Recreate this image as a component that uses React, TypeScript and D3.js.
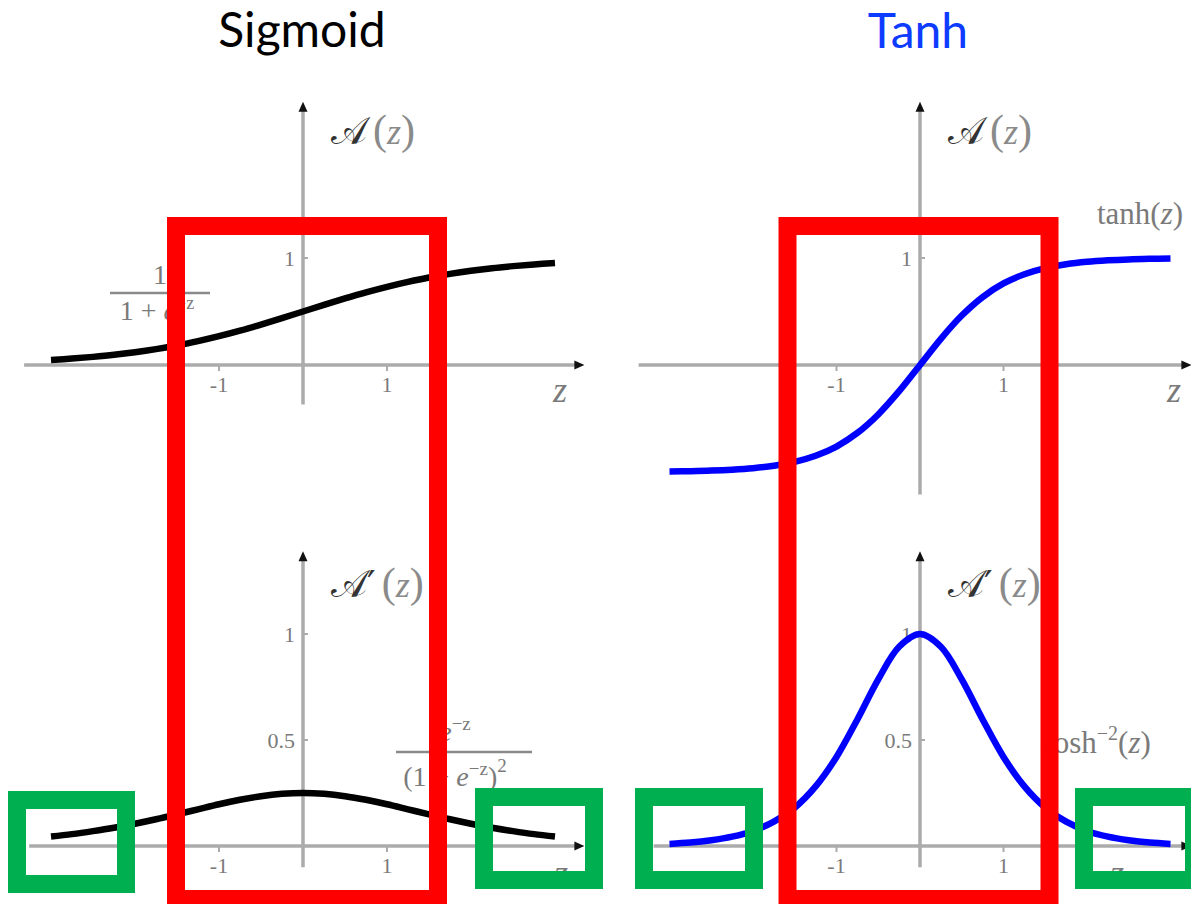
import React from 'react';
import * as d3 from 'd3';

// ---------- data ----------
const zValues = [-3, -2.75, -2.5, -2.25, -2, -1.75, -1.5, -1.25, -1, -0.75, -0.5, -0.25, 0,
  0.25, 0.5, 0.75, 1, 1.25, 1.5, 1.75, 2, 2.25, 2.5, 2.75, 3];
const sigmoidValues = [0.047, 0.060, 0.076, 0.095, 0.119, 0.148, 0.182, 0.223, 0.269, 0.321, 0.378, 0.438, 0.5,
  0.562, 0.622, 0.679, 0.731, 0.777, 0.818, 0.852, 0.881, 0.905, 0.924, 0.940, 0.953];
const sigmoidPrimeValues = [0.045, 0.056, 0.070, 0.086, 0.105, 0.126, 0.149, 0.173, 0.197, 0.218, 0.235, 0.246, 0.25,
  0.246, 0.235, 0.218, 0.197, 0.173, 0.149, 0.126, 0.105, 0.086, 0.070, 0.056, 0.045];
const tanhValues = [-0.995, -0.992, -0.987, -0.978, -0.964, -0.941, -0.905, -0.848, -0.762, -0.635, -0.462, -0.245, 0,
  0.245, 0.462, 0.635, 0.762, 0.848, 0.905, 0.941, 0.964, 0.978, 0.987, 0.992, 0.995];
const tanhPrimeValues = [0.010, 0.016, 0.027, 0.044, 0.071, 0.115, 0.181, 0.281, 0.420, 0.597, 0.786, 0.940, 1.0,
  0.940, 0.786, 0.597, 0.420, 0.281, 0.181, 0.115, 0.071, 0.044, 0.027, 0.016, 0.010];

const xTicks = [-1, 1];
const xTickLabels = ['-1', '1'];
const topYTicks = [1];
const topYTickLabels = ['1'];
const bottomYTicks = [0.5, 1];
const bottomYTickLabels = ['0.5', '1'];
const titles = ['Sigmoid', 'Tanh'];

// ---------- layout ----------
const W = 1191;
const H = 904;
const AXIS = '#ababab';
const LABEL = '#7a7a7a';
const SERIF = '"DejaVu Serif", "Liberation Serif", serif';
const TSERIF = '"Liberation Serif", "DejaVu Serif", serif';

type Panel = {
  ox: number; oy: number; ux: number; uy: number;
  xExt: [number, number]; yExt: [number, number];
  values: number[]; color: string;
  yTicks: number[]; yTickLabels: string[];
  top: boolean; zLabelX: number; zLabelY: number;
};

const panels: Panel[] = [
  { ox: 303, oy: 365, ux: 84, uy: 107, xExt: [-3.32, 3.35], yExt: [-0.37, 2.46], values: sigmoidValues, color: '#000000', yTicks: topYTicks, yTickLabels: topYTickLabels, top: true, zLabelX: 560, zLabelY: 402 },
  { ox: 920, oy: 365, ux: 83.5, uy: 107, xExt: [-3.37, 3.25], yExt: [-1.21, 2.46], values: tanhValues, color: '#0000ff', yTicks: topYTicks, yTickLabels: topYTickLabels, top: true, zLabelX: 1174, zLabelY: 402 },
  { ox: 303, oy: 846, ux: 84, uy: 212, xExt: [-3.26, 3.35], yExt: [-0.1, 1.39], values: sigmoidPrimeValues, color: '#000000', yTicks: bottomYTicks, yTickLabels: bottomYTickLabels, top: false, zLabelX: 561, zLabelY: 885 },
  { ox: 920, oy: 846, ux: 83.5, uy: 212, xExt: [-3.19, 3.25], yExt: [-0.1, 1.39], values: tanhPrimeValues, color: '#0000ff', yTicks: bottomYTicks, yTickLabels: bottomYTickLabels, top: false, zLabelX: 1117, zLabelY: 885 },
];

function PanelView({ p }: { p: Panel }) {
  const x = d3.scaleLinear().domain([0, 1]).range([p.ox, p.ox + p.ux]);
  const y = d3.scaleLinear().domain([0, 1]).range([p.oy, p.oy - p.uy]);
  const line = d3.line<number>()
    .x((_, i) => x(zValues[i]))
    .y((v) => y(v))
    .curve(d3.curveCatmullRom);
  const x0 = x(p.xExt[0]);
  const x1 = x(p.xExt[1]);
  const y0 = y(p.yExt[0]);
  const y1 = y(p.yExt[1]);
  return (
    <g>
      {/* axes */}
      <line x1={x0} y1={p.oy} x2={x1 - 6} y2={p.oy} stroke={AXIS} strokeWidth={3.5} />
      <line x1={p.ox} y1={y0} x2={p.ox} y2={y1 + 6} stroke={AXIS} strokeWidth={3.5} />
      <path d={`M${x1},${p.oy} L${x1 - 10},${p.oy - 4.5} L${x1 - 10},${p.oy + 4.5} Z`} fill="#111" />
      <path d={`M${p.ox},${y1} L${p.ox - 4.5},${y1 + 10} L${p.ox + 4.5},${y1 + 10} Z`} fill="#111" />
      {/* x ticks */}
      {xTicks.map((t, i) => (
        <g key={'xt' + i}>
          <line x1={x(t)} x2={x(t)} y1={p.oy} y2={p.oy + 6} stroke={AXIS} strokeWidth={2} />
          <text x={x(t)} y={p.oy + 27} textAnchor="middle" fontFamily={TSERIF} fontSize={22} fill={LABEL}>{xTickLabels[i]}</text>
        </g>
      ))}
      {/* y ticks */}
      {p.yTicks.map((t, i) => (
        <g key={'yt' + i}>
          <line x1={p.ox} x2={p.ox + 5} y1={y(t)} y2={y(t)} stroke={AXIS} strokeWidth={2} />
          <text x={p.ox - 8} y={y(t) + 8} textAnchor="end" fontFamily={TSERIF} fontSize={22} fill={LABEL}>{p.yTickLabels[i]}</text>
        </g>
      ))}
      {/* axis name */}
      <text x={p.ox + 28} y={p.top ? 144 : 597} fontFamily={SERIF} fontSize={38} fill="#333">
        <tspan>{p.top ? '𝒜' : '𝒜′'}</tspan>
        <tspan dx={6} fill="#8a8a8a" fontFamily={TSERIF} fontSize={42}>(</tspan>
        <tspan fontStyle="italic" fill="#8a8a8a" fontFamily={TSERIF} fontSize={36}>z</tspan>
        <tspan fill="#8a8a8a" fontFamily={TSERIF} fontSize={42}>)</tspan>
      </text>
      <text x={p.zLabelX} y={p.zLabelY} textAnchor="middle" fontFamily={TSERIF} fontStyle="italic" fontSize={36} fill={LABEL}>z</text>
      {/* curve */}
      <path d={line(p.values) || ''} fill="none" stroke={p.color} strokeWidth={6.5} strokeLinecap="butt" />
    </g>
  );
}

export default function App() {
  return (
    <svg width={W} height={H} style={{ position: 'absolute', left: 0, top: 0, background: '#fff' }}>
      <rect x={0} y={0} width={W} height={H} fill="#fff" />
      <text x={302} y={47} textAnchor="middle" fontFamily="Lato, 'Open Sans', sans-serif" fontSize={48} fill="#000">{titles[0]}</text>
      <text x={918} y={48} textAnchor="middle" fontFamily="Lato, 'Open Sans', sans-serif" fontSize={48} fill="#0d3bff">{titles[1]}</text>

      {panels.map((p, i) => <PanelView key={i} p={p} />)}

      {/* formulas */}
      <g fontFamily={TSERIF} fill={LABEL} fontSize={28}>
        <text x={160} y={284} textAnchor="middle">1</text>
        <line x1={110} x2={210} y1={293} y2={293} stroke="#8a8a8a" strokeWidth={2.5} />
        <text x={157} y={320} textAnchor="middle">1 + <tspan fontStyle="italic">e</tspan><tspan dy={-11} fontSize={18}>−z</tspan></text>

        <text x={455} y={741} textAnchor="middle"><tspan fontStyle="italic">e</tspan><tspan dy={-11} fontSize={19}>−z</tspan></text>
        <line x1={396} x2={532} y1={752} y2={752} stroke="#8a8a8a" strokeWidth={2.5} />
        <text x={455} y={786} textAnchor="middle">(1 + <tspan fontStyle="italic">e</tspan><tspan dy={-11} fontSize={19}>−z</tspan><tspan dy={11}>)</tspan><tspan dy={-14} fontSize={19}>2</tspan></text>

        <text x={1040} y={753} fontSize={31}>cosh<tspan dy={-13} fontSize={20}>−2</tspan><tspan dy={13}>(</tspan><tspan fontStyle="italic">z</tspan>)</text>
        <text x={1097} y={224} fontSize={31}>tanh(<tspan fontStyle="italic">z</tspan>)</text>
      </g>

      {/* highlight boxes */}
      <g fill="none" strokeWidth={18}>
        <rect x={176} y={226} width={262} height={673} stroke="#ff0000" />
        <rect x={787.5} y={226} width={262} height={673} stroke="#ff0000" />
        <rect x={17} y={800} width={109} height={84} stroke="#00b050" />
        <rect x={484} y={797} width={110} height={83} stroke="#00b050" />
        <rect x={644} y={797} width={110} height={83} stroke="#00b050" />
        <rect x={1084} y={797} width={110} height={83} stroke="#00b050" />
      </g>
    </svg>
  );
}
